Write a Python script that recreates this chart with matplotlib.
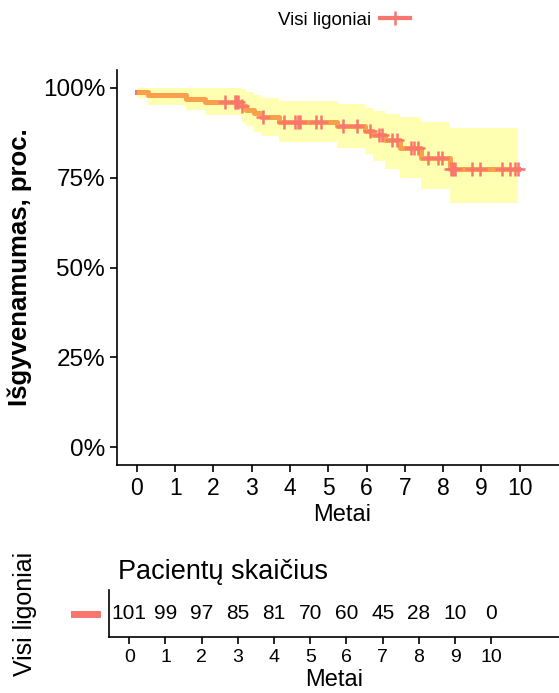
import matplotlib
matplotlib.use("Agg")
import matplotlib.pyplot as plt
from matplotlib.lines import Line2D
import numpy as np

plt.rcParams['font.family'] = ['Liberation Sans', 'DejaVu Sans']

# Kaplan-Meier steps (years, survival %) and confidence band
step_time = [0.0, 0.30, 1.27, 1.78, 2.72, 2.86, 3.05, 3.25, 3.70, 5.22,
             5.96, 6.17, 6.48, 6.87, 7.42, 8.18]
surv = [99.0, 98.0, 97.0, 96.0, 95.0, 94.0, 92.9, 91.8, 90.6, 89.3,
        88.1, 86.8, 85.4, 83.3, 80.6, 77.5]
upper = [100.0, 100.0, 100.0, 100.0, 99.6, 98.9, 98.0, 97.3, 96.3, 95.4,
         94.5, 93.6, 92.7, 91.9, 90.6, 88.9]
lower = [97.2, 95.3, 93.8, 92.4, 90.6, 89.4, 87.8, 86.5, 84.9, 83.2,
         81.5, 79.6, 77.3, 75.0, 72.0, 68.0]
end_time = 9.95

censor_time = [2.29, 2.55, 2.60, 2.64, 2.75, 3.29, 3.84, 4.12, 4.20, 4.25,
               4.69, 4.81, 5.37, 5.76, 6.09, 6.32, 6.39, 6.67, 6.80, 7.16,
               7.24, 7.33, 7.61, 7.87, 7.96, 8.20, 8.25, 8.31, 8.75, 8.97,
               9.53, 9.75, 9.88, 9.95]

risk_time = [0, 1, 2, 3, 4, 5, 6, 7, 8, 9, 10]
at_risk = [101, 99, 97, 85, 81, 70, 60, 45, 28, 10, 0]

group = 'Visi ligoniai'
col = '#F8766D'
band_col = '#FFFF00'

fig = plt.figure(figsize=(5.59, 6.93), dpi=100)

# survival curve (panel runs past the right edge, like the original layout)
ax = fig.add_axes([117/559, 1-465/693, (568-117)/559, (465-70)/693])
t = np.append(step_time, end_time)
s = np.append(surv, surv[-1])
ax.step(t, s, where='post', color=col, lw=3.6, zorder=2)
ax.fill_between(t, np.append(lower, lower[-1]), np.append(upper, upper[-1]),
                step='post', color=band_col, alpha=0.3, lw=0, zorder=3)
idx = np.searchsorted(step_time, censor_time, side='right') - 1
ax.plot(censor_time, np.array(surv)[idx], ls='none', marker='+', ms=10,
        mew=1.8, color=col, zorder=4)

ax.set_xlim(-0.52, 11.26)
ax.set_ylim(-5, 105)
ax.set_xticks(risk_time)
ax.set_yticks([0, 25, 50, 75, 100])
ax.set_yticklabels(['0%', '25%', '50%', '75%', '100%'])
for sp in ['top', 'right']:
    ax.spines[sp].set_visible(False)
for sp in ['left', 'bottom']:
    ax.spines[sp].set_linewidth(1.2)
ax.tick_params(labelsize=16.5, width=1.2, length=5, colors='black')
ax.tick_params(axis='y', labelsize=17.5)
ax.set_xlabel('Metai', fontsize=17, labelpad=3)
ax.set_ylabel('Išgyvenamumas, proc.', fontsize=18.5, fontweight='bold')
ax.yaxis.set_label_coords(-(117-32)/(568-117), 0.5)

# legend on top
handle = Line2D([], [], color=col, lw=3, marker='+', ms=10, mew=1.8)
fig.legend([handle], [group], loc='center', bbox_to_anchor=(344/559, 1-20/693),
           frameon=False, markerfirst=False, fontsize=13.5, handlelength=1.6,
           handletextpad=0.5)

# number at risk table
rax = fig.add_axes([109/559, 1-637/693, (559-109)/559, (637-590)/693])
rax.set_xlim(-0.56, 11.87)
rax.set_ylim(0, 1)
for x, n in zip(risk_time, at_risk):
    rax.text(x, 0.5, str(n), ha='center', va='center', fontsize=15)
rax.set_xticks(risk_time)
rax.set_yticks([])
for sp in ['top', 'right']:
    rax.spines[sp].set_visible(False)
for sp in ['left', 'bottom']:
    rax.spines[sp].set_linewidth(1.2)
rax.tick_params(labelsize=14, width=1.2, length=5)
rax.set_xlabel('Metai', fontsize=17, labelpad=2)
rax.set_title('Pacientų skaičius', fontsize=19.5, loc='left', pad=8, x=0.02)
rax.set_ylabel(group, fontsize=18)
rax.yaxis.set_label_coords(-(109-37)/(559-109), 0.5)
fig.add_artist(Line2D([74/559, 97/559], [1-614/693]*2, color=col, lw=5))

fig.savefig('out.png', dpi=100)
